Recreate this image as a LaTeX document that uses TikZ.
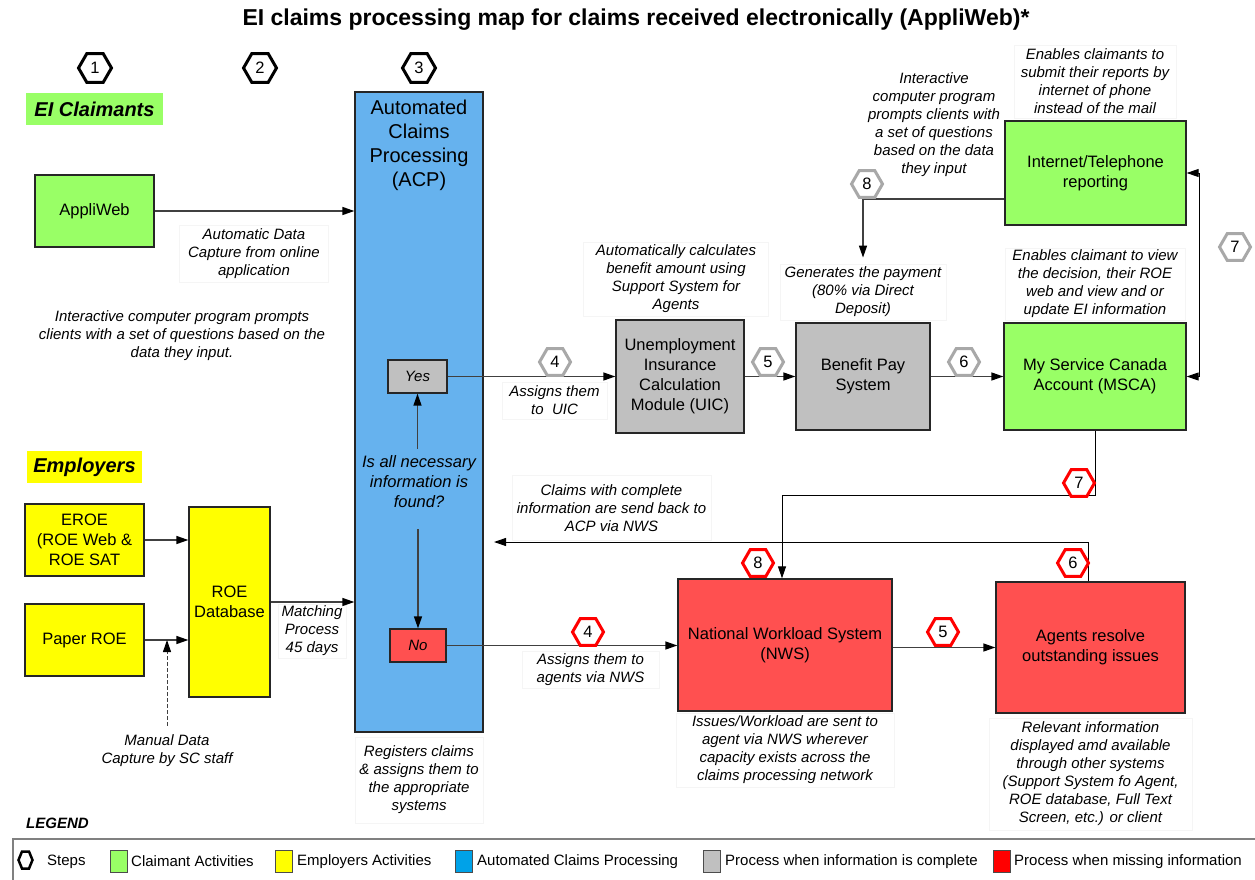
\documentclass[tikz,border=0pt]{standalone}
\usepackage{fontspec}
\setmainfont{Liberation Sans}
\usetikzlibrary{shapes.geometric,arrows.meta}
\definecolor{cgreen}{HTML}{99FF66}
\definecolor{cyellow}{HTML}{FFFF00}
\definecolor{cblue}{HTML}{66B2EE}
\definecolor{lblue}{HTML}{00A2E8}
\definecolor{cgray}{HTML}{C0C0C0}
\definecolor{cred}{HTML}{FF5050}
\definecolor{hexgray}{HTML}{A8A8A8}
\definecolor{linecol}{HTML}{404040}
\newcommand\fBox{\fontsize{16.5}{20}\selectfont}
\newcommand\fNote{\fontsize{15}{18}\selectfont\itshape}
\newcommand\fQ{\fontsize{16.5}{20}\selectfont\itshape}
\newcommand\fAcp{\fontsize{20}{24}\selectfont}
\newcommand\fHex{\fontsize{16.5}{16.5}\selectfont}
\newcommand\fLeg{\fontsize{15}{18}\selectfont}
\newcommand\fHead{\fontsize{20}{24}\selectfont\bfseries\itshape}
\newcommand\fTitle{\fontsize{23}{26}\selectfont\bfseries}
\newcommand\fYN{\fontsize{15}{18}\selectfont\itshape}
\newcommand\fLegT{\fontsize{15}{18}\selectfont\bfseries\itshape}
\begin{document}
\begin{tikzpicture}[x=1pt,y=-1pt,
  box/.style={draw=black!85, line width=1.3pt, align=center, inner sep=2pt, font=\fBox},
  note/.style={draw=black!4, line width=0.8pt, fill=white, align=center, inner sep=1pt, font=\fNote},
  plain/.style={align=center, inner sep=1pt, font=\fNote},
  arr/.style={draw=linecol, line width=1.4pt, -{Triangle[length=12pt,width=8pt,color=black]}},
  thinarr/.style={draw=black, line width=1pt, -{Triangle[length=12pt,width=8pt]}},
  hexbase/.style={regular polygon, regular polygon sides=6, fill=white, inner sep=0pt, minimum size=31pt, line width=3pt, font=\fHex},
  stephex/.style={hexbase, draw=black, minimum size=33pt},
  grayhex/.style={hexbase, draw=hexgray},
  redhex/.style={hexbase, draw=red},
  legsq/.style={draw=black!70, line width=1pt, minimum width=17, minimum height=22, inner sep=0pt},
  legtx/.style={anchor=west, font=\fLeg, inner sep=0pt},
]
\useasboundingbox (0,0) rectangle (1255,880);
\fill[white] (0,0) rectangle (1255,880);

% title
\node[font=\fTitle, inner sep=0] (title) at (636,20) {EI claims processing map for claims received electronically (AppliWeb)*};

% section labels
\node[fill=cgreen, font=\fHead, minimum width=137, minimum height=32, inner sep=0] (lblC) at (94.5,109) {EI Claimants};
\node[fill=cyellow, font=\fHead, minimum width=115, minimum height=32, inner sep=0] (lblE) at (84.5,467) {Employers};

% ACP column
\node[box, fill=cblue, minimum width=128, minimum height=640] (ACP) at (419,412) {};
\node[font=\fAcp, align=center, inner sep=0] (ACPt) at (419,145) {Automated\\Claims\\Processing\\(ACP)};
\node[box, fill=cgray, minimum width=59, minimum height=33, font=\fYN] (Yes) at (417.5,376.5) {Yes};
\node[box, fill=cred, minimum width=56, minimum height=33, font=\fYN] (No) at (418,645.5) {No};
\node[align=center, inner sep=1pt, font=\fQ] (Q) at (419,482) {Is all necessary\\information is\\found?};

% boxes
\node[box, fill=cgreen, minimum width=119, minimum height=72] (AW) at (94.5,211) {AppliWeb};
\node[box, fill=cgray, minimum width=128, minimum height=113] (UIC) at (680,376.5) {Unemployment\\Insurance\\Calculation\\Module (UIC)};
\node[box, fill=cgray, minimum width=134, minimum height=107] (BPS) at (863,376.5) {Benefit Pay\\System};
\node[box, fill=cgreen, minimum width=182, minimum height=107] (MSCA) at (1095,376.5) {My Service Canada\\Account (MSCA)};
\node[box, fill=cgreen, minimum width=181, minimum height=104] (ITR) at (1095.5,173) {Internet/Telephone\\reporting};
\node[box, fill=cyellow, minimum width=119, minimum height=72] (EROE) at (84.5,540) {EROE\\(ROE Web \&\\ROE SAT};
\node[box, fill=cyellow, minimum width=119, minimum height=72] (PROE) at (84.5,640) {Paper ROE};
\node[box, fill=cyellow, minimum width=81, minimum height=190] (RDB) at (229.5,602) {ROE\\Database};
\node[box, fill=cred, minimum width=214, minimum height=132] (NWS) at (785,645) {National Workload System\\(NWS)};
\node[box, fill=cred, minimum width=189, minimum height=131] (AGT) at (1090.5,647.5) {Agents resolve\\outstanding issues};

% annotations
\node[note, minimum width=149, minimum height=57] (adc) at (254,253.5) {Automatic Data\\Capture from online\\application};
\node[plain] (icp) at (182,336) {Interactive computer program prompts\\clients with a set of questions based on the\\data they input.};
\node[note, minimum width=185, minimum height=74] (calc) at (676,279) {Automatically calculates\\benefit amount using\\Support System for\\Agents};
\node[note, minimum width=166, minimum height=56] (GEN) at (863,292) {Generates the payment\\(80\% via Direct\\Deposit)};
\node[note, minimum width=180, minimum height=72] (mnote) at (1095,284) {Enables claimant to view\\the decision, their ROE\\web and view and or\\update EI information};
\node[note, minimum width=162, minimum height=73] (inote) at (1095,81.5) {Enables claimants to\\submit their reports by\\internet of phone\\instead of the mail};
\node[plain] (icp2) at (934,125) {Interactive\\computer program\\prompts clients with\\a set of questions\\based on the data\\they input};
\node[note, minimum width=105, minimum height=37] (uasg) at (554.5,400.5) {Assigns them\\to~~UIC};
\node[note, minimum width=68, minimum height=54] (match) at (312,631) {Matching\\Process\\45 days};
\node[plain] (MAN) at (167,751) {Manual Data\\Capture by SC staff};
\node[note, minimum width=128, minimum height=86] (reg) at (419,780) {Registers claims\\\& assigns them to\\the appropriate\\systems};
\node[note, minimum width=199, minimum height=65] (cback) at (611.5,508) {Claims with complete\\information are send back to\\ACP via NWS};
\node[note, minimum width=137, minimum height=37] (nasg) at (590.5,669.5) {Assigns them to\\agents via NWS};
\node[note, minimum width=218, minimum height=74] (iss) at (785,750) {Issues/Workload are sent to\\agent via NWS wherever\\capacity exists across the\\claims processing network};
\node[note, minimum width=203, minimum height=112] (rel) at (1090.5,774) {Relevant information\\displayed amd available\\through other systems\\(Support System fo Agent,\\ROE database, Full Text\\Screen, etc.) or client};

% connectors
\draw[arr] (AW.east) -- (AW.east -| ACP.west);
\draw[arr] (Yes.east) -- (Yes.east -| UIC.west);
\draw[arr] (UIC.east) -- (UIC.east -| BPS.west);
\draw[arr] (BPS.east) -- (BPS.east -| MSCA.west);
\draw[thinarr, {Triangle[length=12pt,width=8pt]}-{Triangle[length=12pt,width=8pt]}] (ITR.east) -- ++(13,0) |- (MSCA.east);
\draw[arr] ([yshift=-26pt]ITR.west) -| ([yshift=6pt]GEN.north);
\coordinate (qTop) at ([yshift=6pt]Q.north);
\coordinate (qBot) at ([yshift=-20pt]Q.south);
\draw[arr] (qTop -| Yes.south) -- (Yes.south);
\draw[arr] (qBot -| No.north) -- (No.north);
\draw[arr] (No.east) -- (No.east -| NWS.west);
\draw[arr] (NWS.east |- AGT.west) -- (AGT.west);
\draw[arr] (EROE.east) -- (EROE.east -| RDB.west);
\draw[arr] (PROE.east) -- (PROE.east -| RDB.west);
\coordinate (manTop) at ([yshift=8pt]MAN.north);
\draw[arr, line width=1pt, dash pattern=on 4pt off 2pt] (manTop) -- (manTop |- PROE.east);
\draw[arr] (RDB.east) -- (RDB.east -| ACP.west);
\draw[thinarr] (MSCA.south) -- ++(0,65) -| ([xshift=-3pt]NWS.north);
\coordinate (backEnd) at (494,542);
\draw[thinarr] ([xshift=-2.5pt]AGT.north) |- (backEnd);

% step hexagons
\node[stephex] (s1) at (95,68) {1};
\node[stephex] (s2) at (260,68) {2};
\node[stephex] (s3) at (419,68) {3};
\node[grayhex] (g4) at (555,362) {4};
\node[grayhex] (g5) at (768,362) {5};
\node[grayhex] (g6) at (964,362) {6};
\node[grayhex] (g8) at (867,184) {8};
\node[grayhex] (g7) at (1235,247) {7};
\node[redhex] (r4) at (588,632) {4};
\node[redhex] (r5) at (943,632) {5};
\node[redhex] (r7) at (1079,483) {7};
\node[redhex] (r6) at (1073,563) {6};
\node[redhex] (r8) at (758,563) {8};

% legend
\node[anchor=west, font=\fLegT, inner sep=0] (legT) at (26,823) {LEGEND};
\draw[draw=black!50, line width=2.5pt] (1256,839) -- (13,839) -- (13,881);
\draw[line width=2.5pt, line join=miter] (18.5,860) -- (22,851.5) -- (29,851.5) -- (32.5,860) -- (29,868.5) -- (22,868.5) -- cycle;
\node[legtx] (lt1) at (47,861.5) {Steps};
\node[legsq, fill=cgreen] (lq2) at (118.5,861) {};
\node[legtx] (lt2) at (131,861.5) {Claimant Activities};
\node[legsq, fill=cyellow] (lq3) at (284,861) {};
\node[legtx] (lt3) at (297,861.5) {Employers Activities};
\node[legsq, fill=lblue] (lq4) at (464,861) {};
\node[legtx] (lt4) at (477,861.5) {Automated Claims Processing};
\node[legsq, fill=cgray] (lq5) at (711.5,861) {};
\node[legtx] (lt5) at (725,861.5) {Process when information is complete};
\node[legsq, fill=red] (lq6) at (1002,861) {};
\node[legtx] (lt6) at (1014,861.5) {Process when missing information};
\end{tikzpicture}
\end{document}
